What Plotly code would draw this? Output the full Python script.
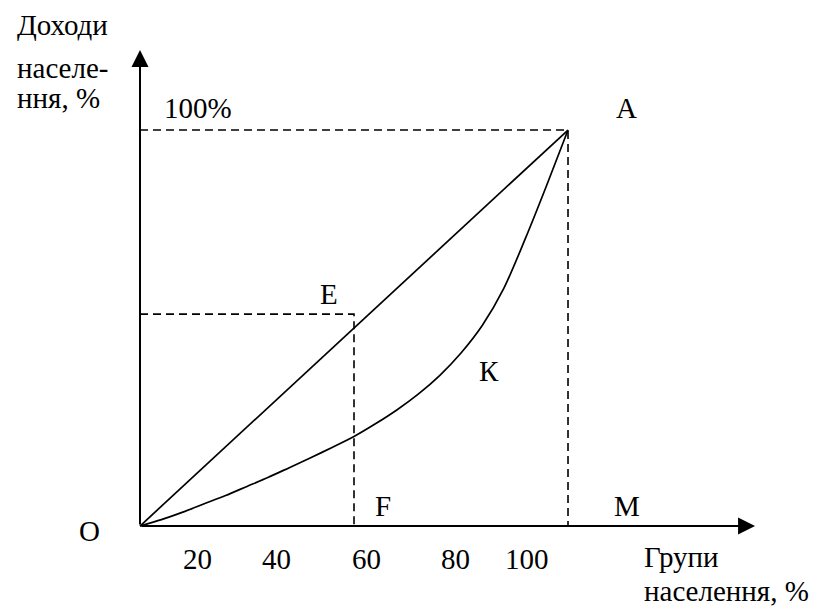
import plotly.graph_objects as go

# equality line O -> A
line_x = [0, 100]
line_y = [0, 100]

# Lorenz curve O -> K -> A
curve_x = [0, 5, 10, 15, 20, 25, 30, 35, 40, 45, 50, 55, 60, 65, 70, 75, 80, 85, 90, 95, 100]
curve_y = [0, 1.6, 3.5, 5.6, 7.7, 10.0, 12.3, 14.8, 17.3, 19.9, 22.6, 25.8, 29.3, 33.3,
           38.0, 43.7, 50.7, 60.0, 72.5, 86.0, 100]

# point E (dashed guides) and point A
e_x, e_y = 50, 53.5
a_x, a_y = 100, 100

tick_vals = [13.55, 32.0, 53.0, 73.6, 90.4]
tick_text = ["20", "40", "60", "80", "100"]

FONT = dict(family="Liberation Serif, Times New Roman, serif", size=29, color="black")

fig = go.Figure()

fig.add_trace(go.Scatter(x=line_x, y=line_y, mode="lines",
                         line=dict(color="black", width=1.7)))
fig.add_trace(go.Scatter(x=curve_x, y=curve_y, mode="lines", line_shape="spline",
                         line=dict(color="black", width=1.7, smoothing=0.8)))

# dashed guides
dash = dict(color="black", width=1.6, dash="8px,5px")
fig.add_trace(go.Scatter(x=[0, a_x, a_x], y=[a_y, a_y, 0], mode="lines", line=dash))
fig.add_trace(go.Scatter(x=[0, e_x, e_x], y=[e_y, e_y, 0], mode="lines", line=dash))

# axes with arrows
for tip in [(143.7, 0), (0, 120.2)]:
    fig.add_annotation(x=tip[0], y=tip[1], ax=0, ay=0,
                       xref="x", yref="y", axref="x", ayref="y",
                       showarrow=True, arrowhead=2, arrowsize=1.7, arrowwidth=2,
                       arrowcolor="black", text="")

# (text, x, y, anchor)
labels = [
    ("Доходи", -29.2, 126.5, "left"),
    ("населе-", -29.2, 115.7, "left"),
    ("ння, %", -29.2, 108.1, "left"),
    ("100%", 5.1, 105.6, "left"),
    ("A", 113.6, 105.6, "center"),
    ("E", 44.2, 58.6, "center"),
    ("К", 81.5, 39.1, "center"),
    ("F", 56.8, 5.05, "center"),
    ("M", 113.8, 5.05, "center"),
    ("O", -11.9, -1.3, "center"),
    ("Групи", 117.3, -7.8, "left"),
    ("населення, %", 117.3, -16.4, "left"),
]
for txt, x, y, anchor in labels:
    fig.add_annotation(x=x, y=y, text=txt, showarrow=False, xanchor=anchor, font=FONT)

for v, t in zip(tick_vals, tick_text):
    fig.add_annotation(x=v, y=-8.3, text=t, showarrow=False, font=FONT)

# the page body adds an 8px offset, so the figure is 8px smaller each way
fig.update_layout(
    width=819, height=602,
    margin=dict(l=0, r=0, t=0, b=0),
    plot_bgcolor="white", paper_bgcolor="white",
    showlegend=False,
    xaxis=dict(range=[-30.84, 160.51], visible=False, fixedrange=True),
    yaxis=dict(range=[-21.21, 130.81], visible=False, fixedrange=True),
)

fig.write_html("out.html")
